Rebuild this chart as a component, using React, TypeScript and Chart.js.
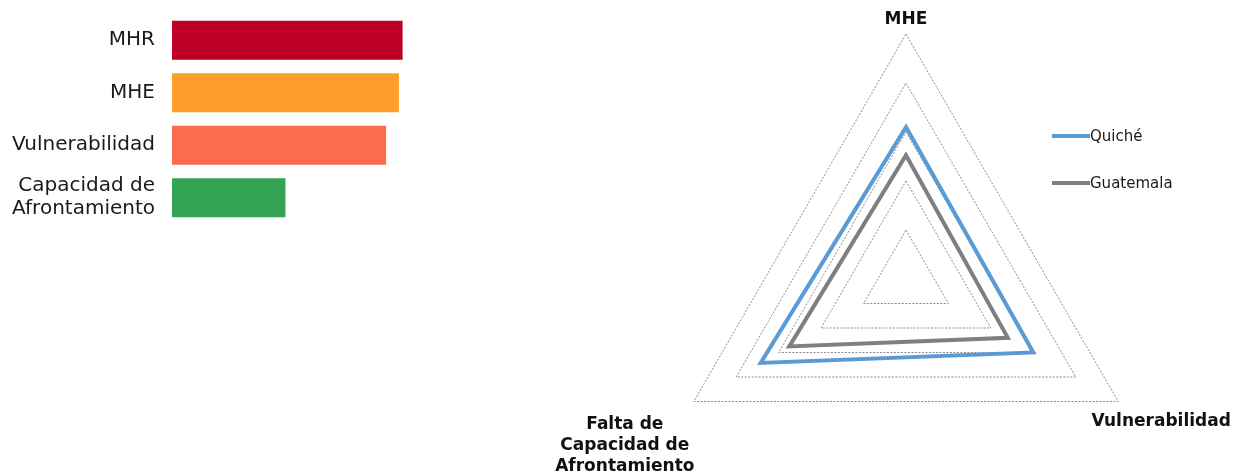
import React, { useEffect, useRef } from "react";
import { Chart, registerables } from "chart.js";

Chart.register(...registerables);

// ---- Bar chart data ----
const barCategories: (string | string[])[] = ["MHR", "MHE", "Vulnerabilidad", ["Capacidad de", "Afrontamiento"]];
const barValues = [6.3, 6.2, 5.85, 3.1];
const barColors = ["#BE0027", "#FF9E2C", "#FB6C4C", "#34A353"];

// ---- Radar chart data ----
const radarAxes = ["MHE", "Vulnerabilidad", "Falta de Capacidad de Afrontamiento"];
const radarAxisLines: string[][] = [["MHE"], ["Vulnerabilidad"], ["Falta de", "Capacidad de", "Afrontamiento"]];
const quicheValues = [6.2, 6.0, 6.85];
const guatemalaValues = [5.05, 4.8, 5.5];
const seriesNames = ["Quiché", "Guatemala"];
const seriesColors = ["#5B9BD5", "#7F7F7F"];

const FONT = '"DejaVu Sans", Verdana, sans-serif';

function BarChart() {
  const ref = useRef<HTMLCanvasElement | null>(null);
  useEffect(() => {
    if (!ref.current) return;
    const chart = new Chart(ref.current, {
      type: "bar",
      data: {
        labels: barCategories as any,
        datasets: [
          {
            data: barValues,
            backgroundColor: barColors,
            borderWidth: 0,
            categoryPercentage: 1,
            barPercentage: 39 / 52.5,
          },
        ],
      },
      options: {
        indexAxis: "y",
        animation: false,
        responsive: false,
        maintainAspectRatio: false,
        layout: { padding: 0 },
        plugins: { legend: { display: false }, tooltip: { enabled: false } },
        scales: {
          x: { display: false, min: 0, max: 10 },
          y: {
            grid: { display: false, drawTicks: false },
            border: { display: false },
            ticks: {
              color: "#1a1a1a",
              padding: 17,
              font: { family: FONT, size: 20, lineHeight: 1.15 },
            },
            afterFit: (scale: any) => {
              scale.width = 172;
              scale.paddingTop = 0;
              scale.paddingBottom = 0;
            },
          },
        },
      },
    });
    return () => chart.destroy();
  }, []);
  return (
    <canvas
      ref={ref}
      width={538}
      height={210}
      style={{ position: "absolute", left: 0, top: 14, width: 538, height: 210 }}
    />
  );
}

const radarLabelPlugin = {
  id: "radarLabels",
  afterDraw(chart: any) {
    const scale = chart.scales.r;
    const ctx = chart.ctx;
    const offsets = [
      { dx: 0, dy: -14, lh: 21 },
      { dx: 43, dy: 20, lh: 21 },
      { dx: -69, dy: 23, lh: 21 },
    ];
    ctx.save();
    ctx.font = `bold 17px ${FONT}`;
    ctx.fillStyle = "#111";
    ctx.textAlign = "center";
    ctx.textBaseline = "middle";
    radarAxisLines.forEach((lines, i) => {
      const p = scale.getPointPosition(i, scale.drawingArea);
      const o = offsets[i];
      lines.forEach((line, j) => {
        ctx.fillText(line, p.x + o.dx, p.y + o.dy + j * o.lh);
      });
    });
    ctx.restore();
  },
};

function RadarChart() {
  const ref = useRef<HTMLCanvasElement | null>(null);
  useEffect(() => {
    if (!ref.current) return;
    const chart = new Chart(ref.current, {
      type: "radar",
      data: {
        labels: radarAxes,
        datasets: [
          {
            label: seriesNames[0],
            data: quicheValues,
            borderColor: seriesColors[0],
            backgroundColor: "transparent",
            borderWidth: 4,
            pointRadius: 0,
            fill: false,
            borderJoinStyle: "miter",
          },
          {
            label: seriesNames[1],
            data: guatemalaValues,
            borderColor: seriesColors[1],
            backgroundColor: "transparent",
            borderWidth: 4,
            pointRadius: 0,
            fill: false,
            borderJoinStyle: "miter",
          },
        ],
      },
      options: {
        animation: false,
        responsive: false,
        maintainAspectRatio: false,
        layout: { padding: { left: 121, right: 83, top: 34, bottom: 6 } },
        plugins: { legend: { display: false }, tooltip: { enabled: false } },
        elements: { line: { tension: 0 } },
        scales: {
          r: {
            min: 0,
            max: 10,
            ticks: { display: false, stepSize: 2 },
            angleLines: { display: false },
            pointLabels: { display: false },
            grid: { color: "#8c8c8c", lineWidth: 1 },
            border: { dash: [2, 1.5] },
          },
        },
      },
      plugins: [radarLabelPlugin],
    });
    return () => chart.destroy();
  }, []);
  return (
    <canvas
      ref={ref}
      width={694}
      height={530}
      style={{ position: "absolute", left: 540, top: 0, width: 694, height: 530 }}
    />
  );
}

function Legend() {
  const tops = [136, 183];
  return (
    <>
      {seriesNames.map((name, i) => (
        <div
          key={name}
          style={{
            position: "absolute",
            left: 1052,
            top: tops[i] - 10,
            height: 20,
            display: "flex",
            alignItems: "center",
            fontFamily: FONT,
            fontSize: 15,
            color: "#1a1a1a",
            whiteSpace: "nowrap",
          }}
        >
          <span style={{ display: "inline-block", width: 38, height: 4, background: seriesColors[i] }} />
          <span>{name}</span>
        </div>
      ))}
    </>
  );
}

export default function App() {
  return (
    <div
      style={{
        position: "absolute",
        left: 0,
        top: 0,
        width: 1234,
        height: 474,
        overflow: "hidden",
        background: "#fff",
      }}
    >
      <BarChart />
      <RadarChart />
      <Legend />
    </div>
  );
}
